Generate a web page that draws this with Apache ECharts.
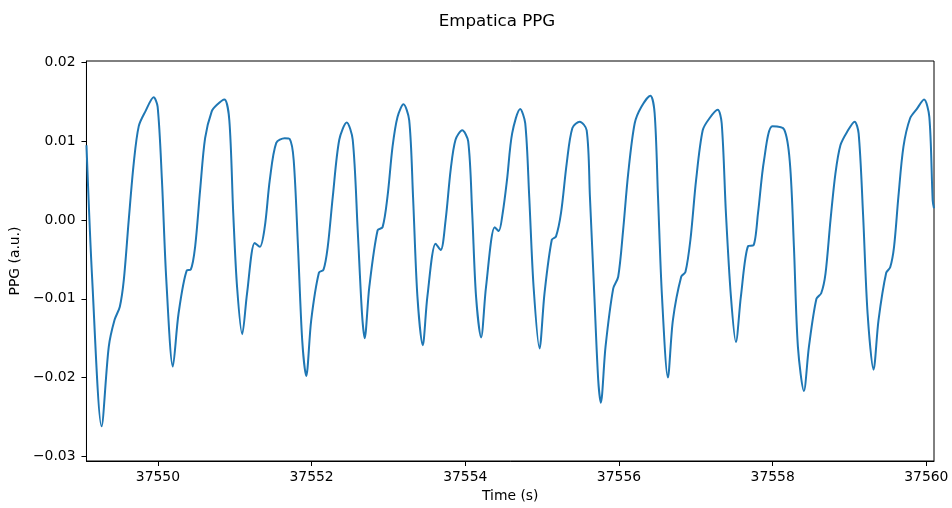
<!DOCTYPE html>
<html>
<head>
<meta charset="utf-8">
<script src="https://cdn.jsdelivr.net/npm/echarts@6/dist/echarts.min.js"></script>
<style>
  html, body { margin: 0; padding: 0; background: #fff; }
  #chart { width: 952px; height: 508px; }
</style>
</head>
<body>
<div id="chart"></div>
<script>
// ---- data ----
const times = [
  37549.07, 37549.145, 37549.267, 37549.36, 37549.435, 37549.504, 37549.556, 37549.62, 37549.685, 37549.75,
  37549.837, 37549.944, 37549.996, 37550.052, 37550.109, 37550.194, 37550.268, 37550.376, 37550.427, 37550.484,
  37550.549, 37550.614, 37550.70, 37550.765, 37550.865, 37550.929, 37550.98, 37551.03, 37551.097, 37551.16,
  37551.26, 37551.326, 37551.39, 37551.456, 37551.54, 37551.65, 37551.715, 37551.767, 37551.823, 37551.878,
  37551.93, 37551.995, 37552.095, 37552.155, 37552.21, 37552.276, 37552.36, 37552.457, 37552.535, 37552.60,
  37552.656, 37552.69, 37552.751, 37552.859, 37552.924, 37552.988, 37553.053, 37553.118, 37553.196, 37553.27,
  37553.32, 37553.377, 37553.446, 37553.507, 37553.614, 37553.68, 37553.744, 37553.81, 37553.873, 37553.96,
  37554.038, 37554.09, 37554.14, 37554.206, 37554.27, 37554.383, 37554.435, 37554.487, 37554.543, 37554.61,
  37554.715, 37554.78, 37554.832, 37554.889, 37554.966, 37555.031, 37555.126, 37555.18, 37555.246, 37555.32,
  37555.394, 37555.49, 37555.58, 37555.622, 37555.68, 37555.73, 37555.764, 37555.825, 37555.925, 37555.99,
  37556.054, 37556.12, 37556.205, 37556.292, 37556.408, 37556.464, 37556.508, 37556.56, 37556.637, 37556.702,
  37556.81, 37556.865, 37556.93, 37557.004, 37557.09, 37557.176, 37557.285, 37557.337, 37557.392, 37557.457,
  37557.522, 37557.587, 37557.681, 37557.751, 37557.81, 37557.888, 37557.997, 37558.15, 37558.225, 37558.277,
  37558.329, 37558.407, 37558.472, 37558.57, 37558.632, 37558.688, 37558.753, 37558.817, 37558.882, 37558.969,
  37559.067, 37559.119, 37559.176, 37559.236, 37559.313, 37559.378, 37559.478, 37559.53, 37559.58, 37559.637,
  37559.702, 37559.788, 37559.875, 37559.97, 37560.039, 37560.083, 37560.10
];
const ppg = [
  0.0095, -0.0076, -0.0262, -0.0161, -0.0127, -0.0110, -0.0076, 0.0000, 0.0072, 0.0119,
  0.0138, 0.0156, 0.0144, 0.0051, -0.0076, -0.0186, -0.0119, -0.0064, -0.0063, -0.0034,
  0.0038, 0.0104, 0.0138, 0.0146, 0.0153, 0.0127, 0.0009, -0.0085, -0.0145, -0.0093,
  -0.0029, -0.0034, -0.0009, 0.0051, 0.0098, 0.0104, 0.0103, 0.0076, -0.0034, -0.0153,
  -0.0198, -0.0127, -0.0067, -0.0063, -0.0034, 0.0030, 0.0102, 0.0124, 0.0102, -0.0013,
  -0.0119, -0.0150, -0.0085, -0.0013, -0.0009, 0.0030, 0.0093, 0.0131, 0.0147, 0.0127,
  0.0030, -0.0097, -0.0159, -0.0097, -0.0030, -0.0038, 0.0000, 0.0064, 0.0102, 0.0114,
  0.0100, 0.0009, -0.0097, -0.0149, -0.0085, -0.0009, -0.0014, 0.0009, 0.0051, 0.0110,
  0.0141, 0.0123, 0.0030, -0.0085, -0.0163, -0.0093, -0.0025, -0.0021, 0.0009, 0.0072,
  0.0117, 0.0125, 0.0114, 0.0030, -0.0097, -0.0203, -0.0232, -0.0161, -0.0087, -0.0072,
  -0.0013, 0.0059, 0.0123, 0.0144, 0.0158, 0.0136, 0.0030, -0.0097, -0.0200, -0.0127,
  -0.0072, -0.0066, -0.0025, 0.0051, 0.0114, 0.0129, 0.0140, 0.0123, 0.0009, -0.0097,
  -0.0155, -0.0097, -0.0033, -0.0032, 0.0009, 0.0076, 0.0119, 0.0115, 0.0072, -0.0034,
  -0.0161, -0.0217, -0.0161, -0.0100, -0.0093, -0.0068, 0.0000, 0.0059, 0.0095, 0.0112,
  0.0125, 0.0110, 0.0009, -0.0119, -0.0190, -0.0127, -0.0067, -0.0060, -0.0034, 0.0030,
  0.0093, 0.0129, 0.0141, 0.0153, 0.0131, 0.0025, 0.0015
];
const xTicks = [37550, 37552, 37554, 37556, 37558, 37560];
const yTicks = [-0.03, -0.02, -0.01, 0.00, 0.01, 0.02];
const xRange = [37549.07, 37560.10];
const yRange = [-0.0306, 0.0202];

// ---- chart ----
const font = "'DejaVu Sans', sans-serif";
const chart = echarts.init(document.getElementById('chart'), null, { renderer: 'canvas' });
const fmtY = v => (v < -1e-12 ? '\u2212' : '') + Math.abs(v).toFixed(2);

chart.setOption({
  animation: false,
  backgroundColor: '#fff',
  title: {
    text: 'Empatica PPG',
    left: 492, top: 8, textAlign: 'center',
    textStyle: { fontFamily: font, fontSize: 16.7, fontWeight: 'normal', color: '#000' }
  },
  grid: {
    left: 83, right: 18, top: 61, bottom: 47,
    show: true, borderColor: '#000', borderWidth: 1, backgroundColor: 'transparent'
  },
  xAxis: {
    type: 'value', min: xRange[0], max: xRange[1],
    name: 'Time (s)', nameLocation: 'middle', nameGap: 27,
    nameTextStyle: { fontFamily: font, fontSize: 13.9, color: '#000' },
    splitLine: { show: false },
    axisLine: { show: true, onZero: false, lineStyle: { color: '#000', width: 1 } },
    axisTick: { show: true, length: 5, customValues: xTicks, lineStyle: { color: '#000', width: 1 } },
    axisLabel: { customValues: xTicks, formatter: v => String(Math.round(v)), fontFamily: font, fontSize: 13.9, color: '#000', margin: 9 }
  },
  yAxis: {
    type: 'value', min: yRange[0], max: yRange[1],
    name: 'PPG (a.u.)', nameLocation: 'middle', nameGap: 57, nameRotate: 90,
    nameTextStyle: { fontFamily: font, fontSize: 13.9, color: '#000' },
    splitLine: { show: false },
    axisLine: { show: true, onZero: false, lineStyle: { color: '#000', width: 1 } },
    axisTick: { show: true, length: 5, customValues: yTicks, lineStyle: { color: '#000', width: 1 } },
    axisLabel: { customValues: yTicks, formatter: fmtY, fontFamily: font, fontSize: 13.9, color: '#000', margin: 11 }
  },
  series: [{
    type: 'line',
    data: times.map((t, i) => [t, ppg[i]]),
    showSymbol: false,
    smooth: 0.3,
    clip: true,
    lineStyle: { color: '#1f77b4', width: 2 }
  }]
});
</script>
</body>
</html>
